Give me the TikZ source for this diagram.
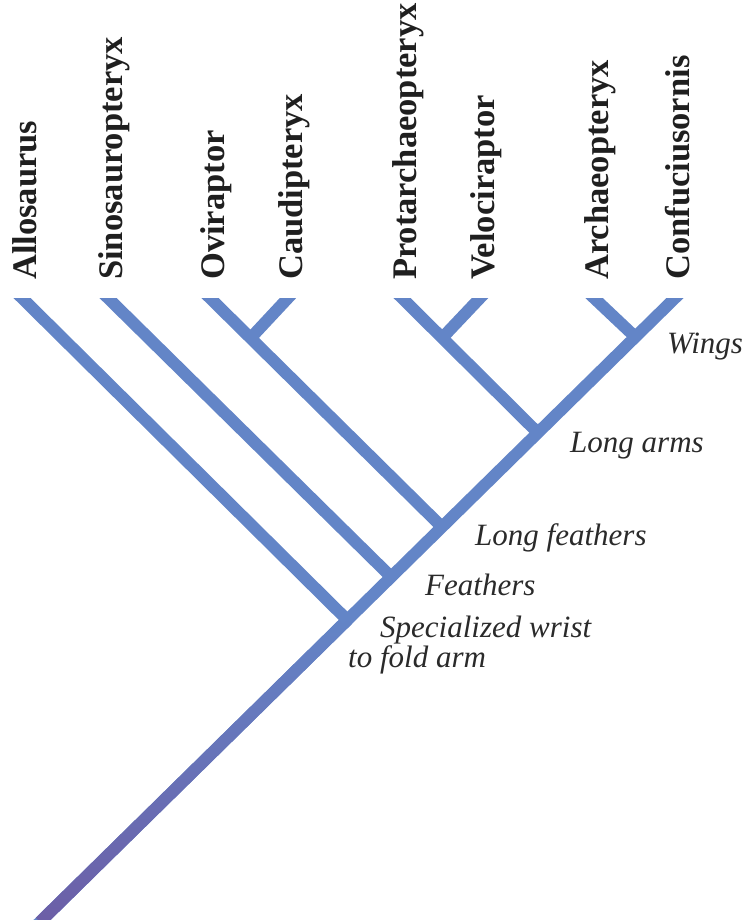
\documentclass[tikz,border=0pt]{standalone}
\usepackage{fontspec}
\setmainfont{Liberation Serif}
\usetikzlibrary{calc}

\definecolor{treeblue}{RGB}{99,133,199}
\definecolor{treepurple}{RGB}{108,94,166}
\definecolor{traitgray}{RGB}{42,42,42}

\tikzset{
  branch/.style={draw=treeblue, line width=12pt},
  taxon/.style={rotate=90, anchor=base west, inner sep=0pt, text=black!88,
    font=\bfseries\fontsize{34.5}{34.5}\selectfont},
  trait/.style={anchor=base west, inner sep=0pt, text=traitgray, align=left,
    font=\itshape\fontsize{31}{30}\selectfont},
}

\begin{document}
\begin{tikzpicture}[x=1pt,y=-1pt]
  \useasboundingbox (0,0) rectangle (745,920);

  % Root and tip of the main line
  \coordinate (root) at (40,922);
  \coordinate (conf) at (675,298);

  % Junctions on the main line
  \coordinate (wrist) at ($(root)!0.484!(conf)$);
  \coordinate (feath) at ($(root)!0.553!(conf)$);
  \coordinate (lfeath) at ($(root)!0.633!(conf)$);
  \coordinate (larms) at ($(root)!0.784!(conf)$);
  \coordinate (wings) at ($(root)!0.9375!(conf)$);

  % Tips of the side branches
  \coordinate (allo) at (22,298);
  \coordinate (sino) at (108,298);
  \coordinate (ovi) at (210,298);
  \coordinate (caud) at (288,298);
  \coordinate (prot) at (402,298);
  \coordinate (velo) at (480,298);
  \coordinate (arch) at (594,298);

  % Small forks
  \coordinate (ovifork) at ($(lfeath)!0.825!(ovi)$);
  \coordinate (protfork) at ($(larms)!0.704!(prot)$);

  % Branches, cut flat at the top
  \begin{scope}
    \clip (0,298) rectangle (745,930);
    \draw[branch, shorten <=-10pt, shorten >=-15pt] (root) -- (conf);
    \shade[top color=treeblue, bottom color=treepurple]
      ($(root)!6pt!90:(wrist)$) -- ($(root)!6pt!-90:(wrist)$) --
      ($(wrist)!6pt!90:(root)$) -- ($(wrist)!6pt!-90:(root)$) -- cycle;
    \draw[branch, shorten >=-15pt] (wrist) -- (allo);
    \draw[branch, shorten >=-15pt] (feath) -- (sino);
    \draw[branch, shorten >=-15pt] (lfeath) -- (ovi);
    \draw[branch, shorten >=-15pt] (ovifork) -- (caud);
    \draw[branch, shorten >=-15pt] (larms) -- (prot);
    \draw[branch, shorten >=-15pt] (protfork) -- (velo);
    \draw[branch, shorten >=-15pt] (wings) -- (arch);
  \end{scope}

  % Taxon names
  \foreach \tip/\name in {allo/Allosaurus, sino/Sinosauropteryx, ovi/Oviraptor,
      caud/Caudipteryx, prot/Protarchaeopteryx, velo/Velociraptor,
      arch/Archaeopteryx, conf/Confuciusornis} {
    \node[taxon] (\tip lab) at ($(\tip)+(14,-18)$) {\name};
  }

  % Traits
  \node[trait] (wingslab) at (667,353) {Wings};
  \node[trait] (larmslab) at (570,452) {Long arms};
  \node[trait] (lfeathlab) at (475,545) {Long feathers};
  \node[trait] (feathlab) at (425,595) {Feathers};
  \node[trait] (wristlab) at (348,667) {\hspace*{32pt}Specialized wrist\\to fold arm};

\end{tikzpicture}
\end{document}
